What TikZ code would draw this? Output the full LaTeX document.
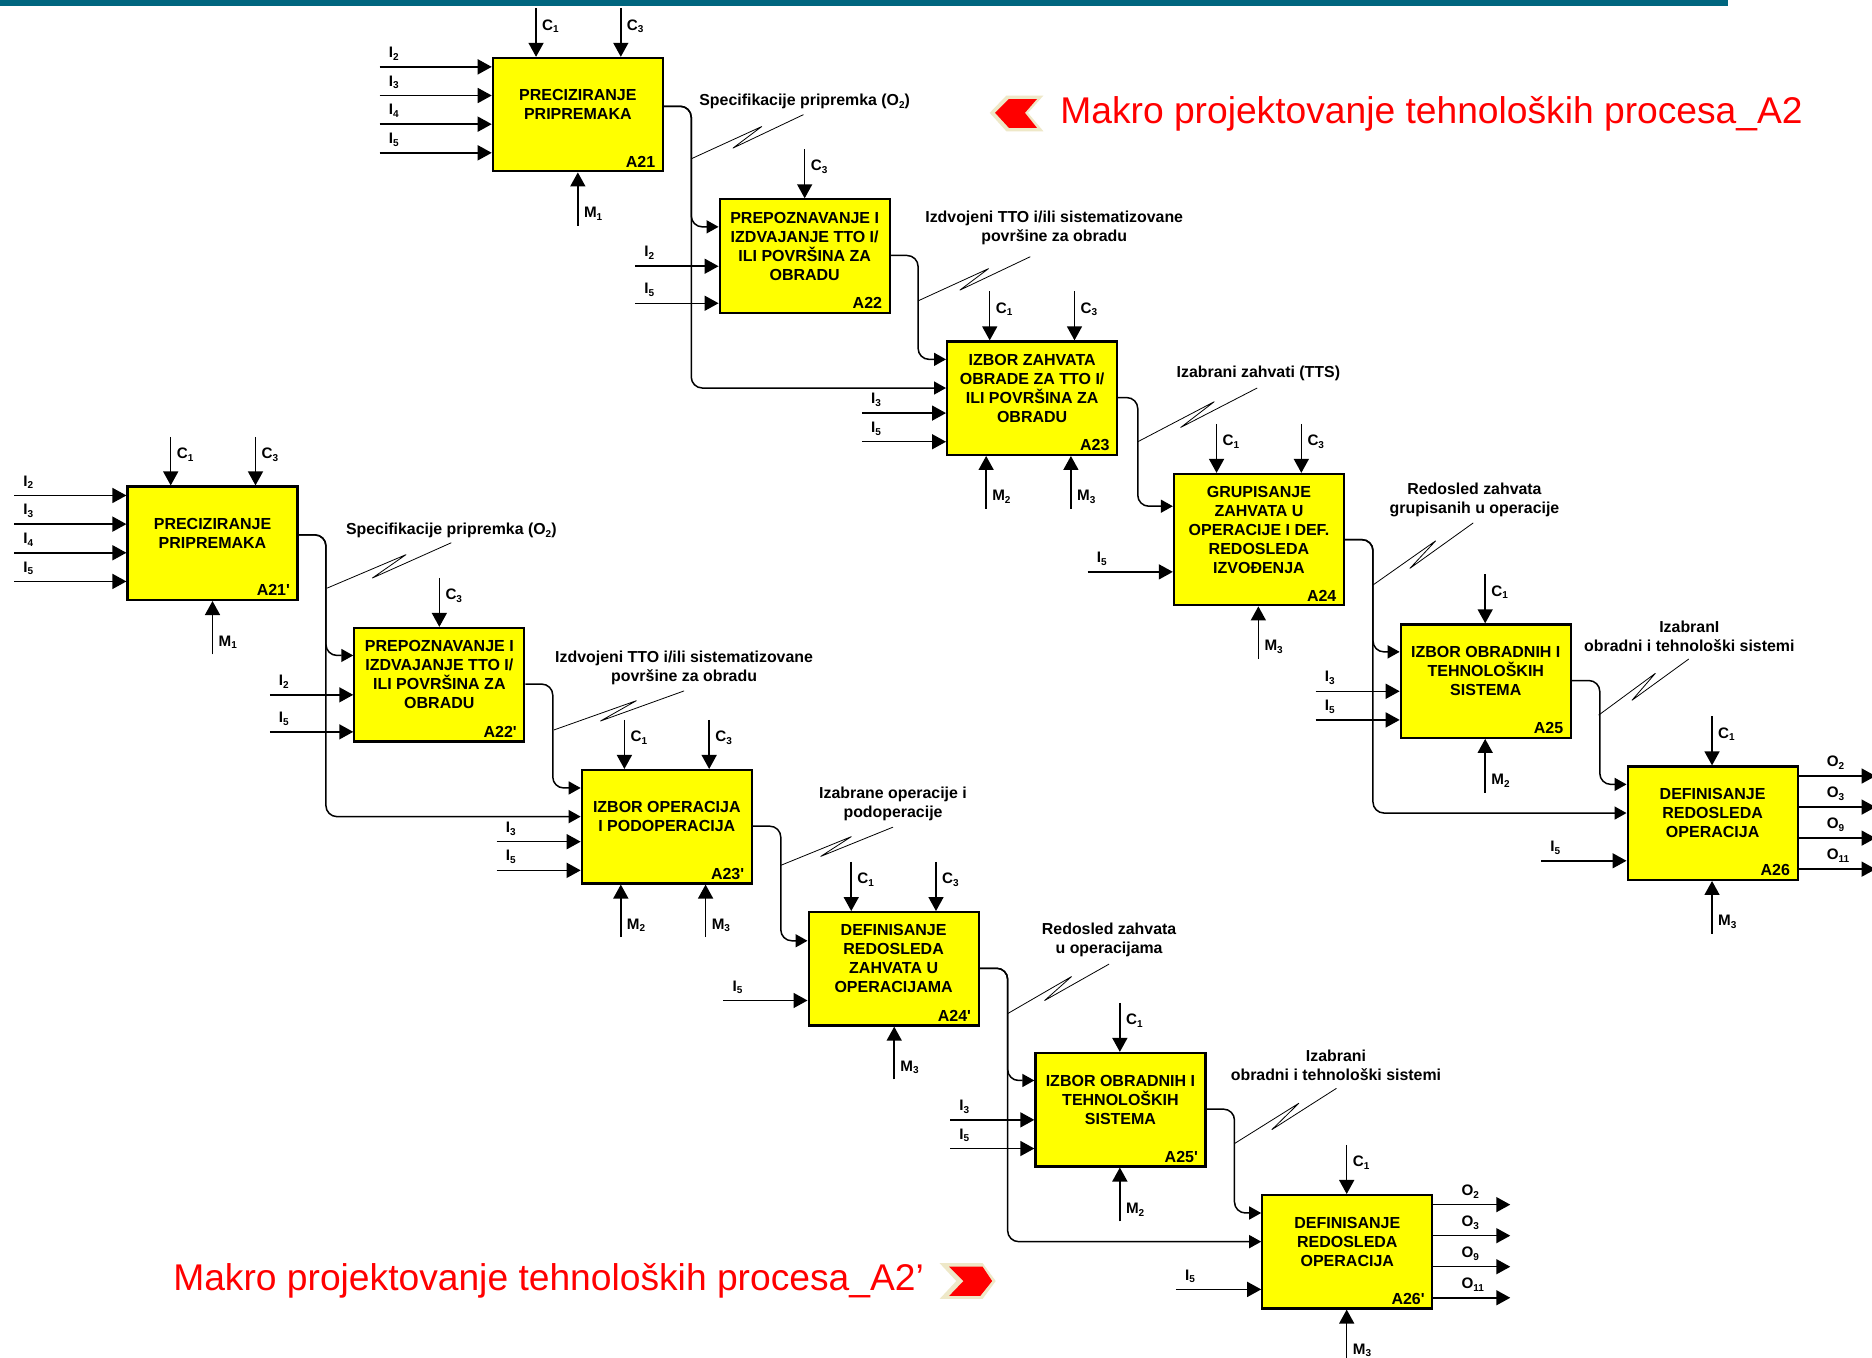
\documentclass[tikz,border=0pt]{standalone}
\usepackage{fontspec}
\setmainfont{Liberation Sans}
\newfontfamily\rawfont{Liberation Sans}
\usetikzlibrary{arrows.meta}
\definecolor{barteal}{HTML}{00667F}
\definecolor{chevbeige}{HTML}{EEE8C8}
\definecolor{blkyellow}{RGB}{255,255,0}
\definecolor{titlered}{RGB}{255,0,0}
\newcommand\sbs[1]{\raisebox{-.35ex}{\fontsize{10}{10}\selectfont #1}}
\newcommand\rawprime{{\rawfont '}}
\tikzset{
  blk/.style={draw=black,fill=blkyellow,line width=2.2pt,minimum width=170pt,inner sep=0pt},
  blktext/.style={font=\bfseries\fontsize{16}{19}\selectfont,align=center,inner sep=0pt},
  blkid/.style={font=\bfseries\fontsize{16}{19}\selectfont,anchor=south east,inner sep=0pt,xshift=-8.5pt,yshift=5pt},
  lab/.style={font=\bfseries\fontsize{15.2}{18}\selectfont,anchor=west,inner sep=0pt},
  captxt/.style={font=\bfseries\fontsize{15.9}{19}\selectfont,align=center,inner sep=0pt,yshift=-1.2pt},
  flow/.style={line width=1.5pt,-{Triangle[length=14pt,width=15pt]}},
  elbow/.style={line width=1.5pt,rounded corners=11pt,-{Triangle[length=12pt,width=13pt]}},
  squigline/.style={line width=.8pt},
  bigtitle/.style={font=\fontsize{37.2}{40}\selectfont,text=titlered,inner sep=0pt,anchor=west,yshift=-3.5pt}
}
% box: name, cx, cy, height(pt), title, id
\newcommand\blockbox[6]{%
  \node[blk,minimum height=#4pt] (#1) at (#2,#3) {};
  \node[blktext,yshift=10pt] (#1-t) at (#1.center) {#5};
  \node[blkid] (#1-id) at (#1.south east) {#6};
}
% left input: box, y, xstart, label
\newcommand\inL[4]{%
  \coordinate (#1-ls#2) at (#3,#2);
  \draw[flow] (#1-ls#2) -- (#1-ls#2 -| #1.west);
  \node[lab] (#1-ll#2) at (#3+7.5,#2-11) {#4};
}
% top input: box, x, ystart, label
\newcommand\inT[4]{%
  \coordinate (#1-ts#2) at (#2,#3);
  \draw[flow] (#1-ts#2) -- (#1-ts#2 |- #1.north);
  \node[lab] (#1-tl#2) at (#2+5,#3+15) {#4};
}
% bottom input: box, x, ystart, label
\newcommand\inB[4]{%
  \coordinate (#1-bs#2) at (#2,#3);
  \draw[flow] (#1-bs#2) -- (#1-bs#2 |- #1.south);
  \node[lab] (#1-bl#2) at (#2+5,#3-10) {#4};
}
% right output: box, y, xend, xlabel, label
\newcommand\outR[5]{%
  \coordinate (#1-oe#2) at (#3,#2);
  \draw[flow] (#1-oe#2 -| #1.east) -- (#1-oe#2);
  \node[lab] (#1-ol#2) at (#4,#2-11) {#5};
}
% elbow: from box, y out, x bus, to box, y in
\newcommand\elb[5]{%
  \coordinate (#1-ey#2) at (0,#2);
  \coordinate (#4-ey#5) at (0,#5);
  \coordinate (#1-ex#3) at (#3,0);
  \draw[elbow] (#1.east |- #1-ey#2) -- (#1-ex#3 |- #1-ey#2) -- (#1-ex#3 |- #4-ey#5) -- (#4.west |- #4-ey#5);
}
% squiggle from a point on the bus: name, x, y, then three offsets from that point
\newcommand\squig[6]{%
  \coordinate (#1) at (#2,#3);
  \draw[squigline,line join=round] (#1) -- +(#4) -- +(#5) -- +(#6);
}
\newcommand\chainA[3]{% suffix, id suffix, A23 title
  \blockbox{a21#1}{484}{96}{113.4}{PRECIZIRANJE\\PRIPREMAKA}{A21#2}
  \inT{a21#1}{449}{7}{C\sbs{1}}
  \inT{a21#1}{520}{7}{C\sbs{3}}
  \inL{a21#1}{56}{318}{I\sbs{2}}
  \inL{a21#1}{80}{318}{I\sbs{3}}
  \inL{a21#1}{104}{318}{I\sbs{4}}
  \inL{a21#1}{128}{318}{I\sbs{5}}
  \inB{a21#1}{484}{189}{M\sbs{1}}
  \blockbox{a22#1}{674}{214.5}{113.4}{PREPOZNAVANJE I\\IZDVAJANJE TTO I/\\ILI POVRŠINA ZA\\OBRADU}{A22#2}
  \inT{a22#1}{674}{125}{C\sbs{3}}
  \inL{a22#1}{223}{532}{I\sbs{2}}
  \inL{a22#1}{254}{532}{I\sbs{5}}
  \blockbox{a23#1}{864.5}{333.5}{113.4}{#3}{A23#2}
  \inT{a23#1}{829}{244}{C\sbs{1}}
  \inT{a23#1}{900}{244}{C\sbs{3}}
  \inL{a23#1}{346}{722}{I\sbs{3}}
  \inL{a23#1}{370}{722}{I\sbs{5}}
  \inB{a23#1}{826}{426}{M\sbs{2}}
  \inB{a23#1}{897}{426}{M\sbs{3}}
  \elb{a21#1}{89}{579}{a22#1}{190}
  \elb{a21#1}{89}{579}{a23#1}{325}
  \elb{a22#1}{214}{769}{a23#1}{301}
}
\newcommand\chainB[2]{% suffix, id suffix
  \blockbox{a25#1}{1244.5}{570.5}{113.4}{IZBOR OBRADNIH I\\TEHNOLOŠKIH\\SISTEMA}{A25#2}
  \inT{a25#1}{1244}{481}{C\sbs{1}}
  \inL{a25#1}{579}{1102}{I\sbs{3}}
  \inL{a25#1}{603}{1102}{I\sbs{5}}
  \inB{a25#1}{1244}{664}{M\sbs{2}}
  \blockbox{a26#1}{1434.5}{689.5}{113.4}{DEFINISANJE\\REDOSLEDA\\OPERACIJA}{A26#2}
  \inT{a26#1}{1434}{600}{C\sbs{1}}
  \inL{a26#1}{721}{1291}{I\sbs{5}}
  \inB{a26#1}{1434}{782}{M\sbs{3}}
  \outR{a26#1}{650}{1571}{1530}{O\sbs{2}}
  \outR{a26#1}{676}{1571}{1530}{O\sbs{3}}
  \outR{a26#1}{702}{1571}{1530}{O\sbs{9}}
  \outR{a26#1}{728}{1571}{1530}{O\sbs{11}}
  \elb{a24#1}{452}{1150}{a25#1}{546}
  \elb{a24#1}{452}{1150}{a26#1}{681}
  \elb{a25#1}{570}{1340}{a26#1}{657}
}
\begin{document}
\begin{tikzpicture}[x=1.19388pt,y=-1.19388pt]
\useasboundingbox (0,0) rectangle (1568,1137.46);
\fill[white] (0,0) rectangle (1568,1137.46);
\fill[barteal] (0,0) rectangle (1447,4.8);

% upper chain
\chainA{}{}{IZBOR ZAHVATA\\OBRADE ZA TTO I/\\ILI POVRŠINA ZA\\OBRADU}
\blockbox{a24}{1054.5}{452}{131.3}{GRUPISANJE\\ZAHVATA U\\OPERACIJE I DEF.\\REDOSLEDA\\IZVOĐENJA}{A24}
\inT{a24}{1019}{355}{C\sbs{1}}
\inT{a24}{1090}{355}{C\sbs{3}}
\inL{a24}{479}{911}{I\sbs{5}}
\inB{a24}{1054}{552}{M\sbs{3}}
\elb{a23}{333}{953}{a24}{424}
\chainB{}{}
\squig{sqa}{579}{133}{59,-27}{35,-9}{94,-37}
\squig{sqb}{769}{252}{59,-27}{35,-9}{94,-37}
\squig{sqc}{953}{370}{64,-33.5}{36,-12}{100,-45}
\squig{sqd}{1150}{490}{52.5,-37}{31,-14}{84,-52}
\squig{sqe}{1339}{599}{47.5,-35}{28,-12.5}{75.5,-47}

% lower chain
\begin{scope}[shift={(-306,359)}]
\chainA{p}{\rawprime}{IZBOR OPERACIJA\\I PODOPERACIJA}
\blockbox{a24p}{1054.5}{452.5}{113.4}{DEFINISANJE\\REDOSLEDA\\ZAHVATA U\\OPERACIJAMA}{A24\rawprime}
\inT{a24p}{1019}{363}{C\sbs{1}}
\inT{a24p}{1090}{363}{C\sbs{3}}
\inL{a24p}{479}{912}{I\sbs{5}}
\inB{a24p}{1055}{545}{M\sbs{3}}
\elb{a23p}{333}{960}{a24p}{429}
\chainB{p}{\rawprime}
\squig{sqap}{580}{133.6}{66,-28}{38,-8.5}{104,-38}
\squig{sqbp}{770}{252.4}{69,-24.5}{39,-7.5}{109,-32.7}
\squig{sqcp}{960}{365.8}{59,-24}{33.5,-7.5}{94,-32}
\squig{sqdp}{1150}{490}{53.5,-31}{31,-11}{85,-41.5}
\squig{sqep}{1340.4}{598.6}{53.5,-33.5}{31,-11.5}{85,-46}
\end{scope}

% captions
\node[captxt] (capa) at (674,84) {Specifikacije pripremka (O\sbs{2})};
\node[captxt] (capb) at (883,190) {Izdvojeni TTO i/ili sistematizovane\\površine za obradu};
\node[captxt] (capc) at (1054,312) {Izabrani zahvati (TTS)};
\node[captxt] (capd) at (1235,418) {Redosled zahvata\\grupisanih u operacije};
\node[captxt] (cape) at (1415,532) {IzabranI\\obradni i tehnološki sistemi};
\node[captxt] (capap) at (378,443) {Specifikacije pripremka (O\sbs{2})};
\node[captxt] (capbp) at (573,558) {Izdvojeni TTO i/ili sistematizovane\\površine za obradu};
\node[captxt] (capcp) at (748,672) {Izabrane operacije i\\podoperacije};
\node[captxt] (capdp) at (929,786) {Redosled zahvata\\u operacijama};
\node[captxt] (capep) at (1119,891) {Izabrani\\obradni i tehnološki sistemi};

% big titles and chevrons
\fill[chevbeige] (829,94.5) -- (843,80) -- (874,80) -- (861,94.5) -- (874,110) -- (843,110) -- cycle;
\fill[titlered] (833.5,94.5) -- (845,83) -- (868.5,83) -- (858.5,94.5) -- (868.5,107) -- (845,107) -- cycle;
\node[bigtitle] (titleup) at (888,92) {Makro projektovanje tehnoloških procesa\_A2};
\fill[chevbeige] (787,1058) -- (823,1058) -- (834,1073) -- (823,1088) -- (787,1088) -- (801,1073) -- cycle;
\fill[titlered] (795,1061) -- (823,1061) -- (831,1073) -- (821,1085.5) -- (795,1085.5) -- (807,1073) -- cycle;
\node[bigtitle] (titlelow) at (145,1070) {Makro projektovanje tehnoloških procesa\_A2’};
\end{tikzpicture}
\end{document}
